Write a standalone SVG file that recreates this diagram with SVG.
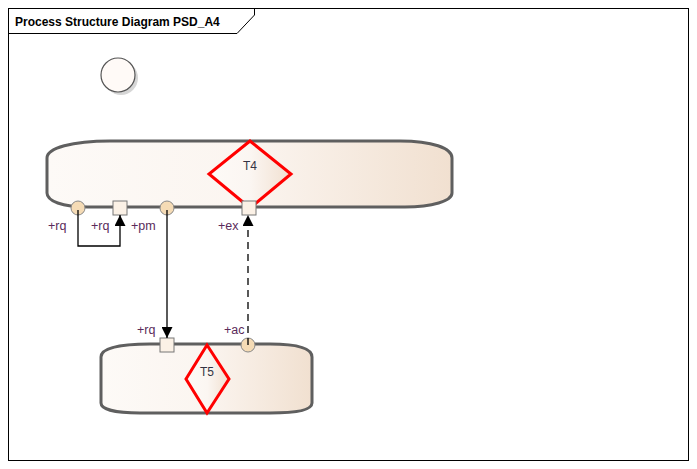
<svg xmlns="http://www.w3.org/2000/svg" width="697" height="469" viewBox="0 0 697 469">
<defs>
<linearGradient id="g" x1="0" y1="0" x2="1" y2="0">
<stop offset="0" stop-color="#fdfaf7"/>
<stop offset="0.5" stop-color="#fbf5f0"/>
<stop offset="1" stop-color="#f1e0d0"/>
</linearGradient>
<linearGradient id="gd" x1="0" y1="0" x2="1" y2="0">
<stop offset="0" stop-color="#fdfaf7"/>
<stop offset="0.5" stop-color="#fbf6f2"/>
<stop offset="1" stop-color="#f1e0d0"/>
</linearGradient>
<marker id="ah" viewBox="0 0 10 10" refX="10" refY="5" markerWidth="11" markerHeight="11" markerUnits="userSpaceOnUse" orient="auto">
<path d="M0,0 L10,5 L0,10 Z" fill="#000"/>
</marker>
</defs>
<style>
.frame{fill:#fff;stroke:#000;stroke-width:1}
.title{font-family:"Liberation Sans",Arial,sans-serif;font-weight:bold;font-size:12px;fill:#000}
.proc{fill:url(#g);stroke:#5f5f5f;stroke-width:3}
.dia{fill:url(#gd);stroke:#ff0000;stroke-width:3}
.lbl{font-family:"Liberation Sans",Arial,sans-serif;font-size:12.5px;fill:#5a2b5a}
.nm{font-family:"Liberation Sans",Arial,sans-serif;font-size:12px;fill:#333344;text-anchor:middle}
.pc{fill:#f5dbb5;stroke:#888;stroke-width:1}
.ps{fill:#fbf1e6;stroke:#777;stroke-width:1}
.con{fill:none;stroke:#000;stroke-width:1.3}
</style>
<rect class="frame" x="8.5" y="8.5" width="680" height="452"/>
<path d="M8.5,33.5 H237 L254.5,15 V8.5" fill="none" stroke="#000" stroke-width="1"/>
<text class="title" x="15" y="26">Process Structure Diagram PSD_A4</text>

<g id="start">
<circle cx="121" cy="78" r="17" fill="#bbb" opacity="0.6"/>
<circle cx="118" cy="75" r="17" fill="#fffaf7" stroke="#555" stroke-width="1.2"/>
</g>

<g id="T4">
<path class="proc" d="M110,141 H400 C432,141 452,148 452,158 V193 C452,201 432,207 405,207 H88 C62,207 47,201 47,193 V158 C47,148 72,141 110,141 Z"/>
<path class="dia" d="M250,141 L291,174 L250,208 L209,174 Z"/>
<text class="nm" x="250" y="170">T4</text>
</g>

<g id="T5">
<path class="proc" d="M150,344 H270 C297,344 312,348 312,357 V403 C312,410 297,413 270,413 H140 C115,413 101,409 101,403 V357 C101,348 120,344 150,344 Z"/>
<path class="dia" d="M207,345 L229,379 L207,413 L186,379 Z"/>
<text class="nm" x="207" y="376">T5</text>
</g>

<g id="ports">
<circle class="pc" cx="78" cy="208" r="7"/>
<rect class="ps" x="113" y="201" width="14" height="14"/>
<circle class="pc" cx="167" cy="208" r="7"/>
<rect class="ps" x="242" y="201" width="14" height="14"/>
<rect class="ps" x="160" y="338" width="14" height="14"/>
<circle class="pc" cx="248" cy="345" r="7"/>
<text class="lbl" x="48" y="230">+rq</text>
<text class="lbl" x="91" y="230">+rq</text>
<text class="lbl" x="131" y="230">+pm</text>
<text class="lbl" x="218" y="230">+ex</text>
<text class="lbl" x="137" y="334">+rq</text>
<text class="lbl" x="224" y="334">+ac</text>
</g>

<g id="connectors">
<path class="con" d="M78,210 V246 H120 V215" marker-end="url(#ah)"/>
<path class="con" d="M167,210 V338" marker-end="url(#ah)"/>
<path class="con" d="M248,345 V215" stroke-dasharray="7,5" marker-end="url(#ah)"/>
</g>
</svg>
